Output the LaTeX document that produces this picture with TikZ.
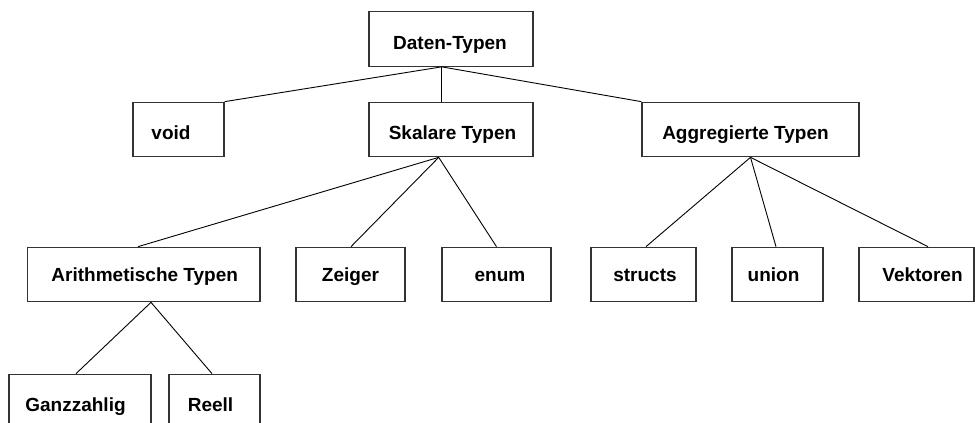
\documentclass[tikz,border=0pt]{standalone}
\usepackage{fontspec}
\setmainfont{Liberation Sans}
\begin{document}
\begin{tikzpicture}[x=1pt,y=-1pt,
  box/.style={draw=black!80, line width=1.2pt, minimum height=54.5pt, inner sep=0pt},
  txt/.style={anchor=base, inner sep=0pt, font=\bfseries\fontsize{19}{23}\selectfont},
  link/.style={draw=black, line width=0.9pt}]
\useasboundingbox (0,0) rectangle (975,423);

% level 0
\node[box, minimum width=164pt] (daten) at (451,39) {};
\node[txt] (daten-t) at ([xshift=-1pt,yshift=-10pt]daten.center) {Daten-Typen};

% level 1
\node[box, minimum width=91pt]  (void)    at (178.5,129.5) {};
\node[box, minimum width=164pt] (skalare) at (451,129.5) {};
\node[box, minimum width=217pt] (aggr)    at (750.5,129.5) {};
\node[txt] (void-t)    at ([xshift=-7.5pt,yshift=-9.5pt]void.center) {void};
\node[txt] (skalare-t) at ([xshift=1.5pt,yshift=-9.5pt]skalare.center) {Skalare Typen};
\node[txt] (aggr-t)    at ([xshift=-5pt,yshift=-9.5pt]aggr.center) {Aggregierte Typen};

% level 2
\node[box, minimum width=232.5pt] (arith)    at (143.75,274.5) {};
\node[box, minimum width=109pt]   (zeiger)   at (350.5,274.5) {};
\node[box, minimum width=109pt]   (enum)     at (496.5,274.5) {};
\node[box, minimum width=105pt]   (structs)  at (643.5,274.5) {};
\node[box, minimum width=91pt]    (union)    at (777.5,274.5) {};
\node[box, minimum width=115pt]   (vektoren) at (916.5,274.5) {};
\node[txt] (arith-t)    at ([xshift=1pt,yshift=-6.5pt]arith.center) {Arithmetische Typen};
\node[txt] (zeiger-t)   at ([yshift=-6.5pt]zeiger.center) {Zeiger};
\node[txt] (enum-t)     at ([xshift=3.5pt,yshift=-6.5pt]enum.center) {enum};
\node[txt] (structs-t)  at ([xshift=1.5pt,yshift=-6.5pt]structs.center) {structs};
\node[txt] (union-t)    at ([xshift=-4pt,yshift=-6.5pt]union.center) {union};
\node[txt] (vektoren-t) at ([xshift=6pt,yshift=-6.5pt]vektoren.center) {Vektoren};

% level 3
\node[box, minimum width=142pt] (ganz)  at (80,401.5) {};
\node[box, minimum width=91pt]  (reell) at (214.5,401.5) {};
\node[txt] (ganz-t)  at ([xshift=-4.5pt,yshift=-9.5pt]ganz.center) {Ganzzahlig};
\node[txt] (reell-t) at ([xshift=-4pt,yshift=-9.5pt]reell.center) {Reell};

% connectors
\coordinate (dj) at ([xshift=-9.3pt]daten.south);
\draw[link] (dj) -- (void.north east);
\draw[link] (dj) -- (dj |- skalare.north);
\draw[link] (dj) -- (aggr.north west);

\coordinate (sj) at ([xshift=-12.3pt]skalare.south);
\draw[link] (sj) -- ([xshift=-5.75pt]arith.north);
\draw[link] (sj) -- ([xshift=0.5pt]zeiger.north);
\draw[link] (sj) -- (enum.north);

\coordinate (aj) at (aggr.south);
\draw[link] (aj) -- ([xshift=2.5pt]structs.north);
\draw[link] (aj) -- ([xshift=-1.5pt]union.north);
\draw[link] (aj) -- ([xshift=11.5pt]vektoren.north);

\coordinate (rj) at ([xshift=7.25pt]arith.south);
\draw[link] (rj) -- ([xshift=-4pt]ganz.north);
\draw[link] (rj) -- ([xshift=-2.5pt]reell.north);
\end{tikzpicture}
\end{document}
